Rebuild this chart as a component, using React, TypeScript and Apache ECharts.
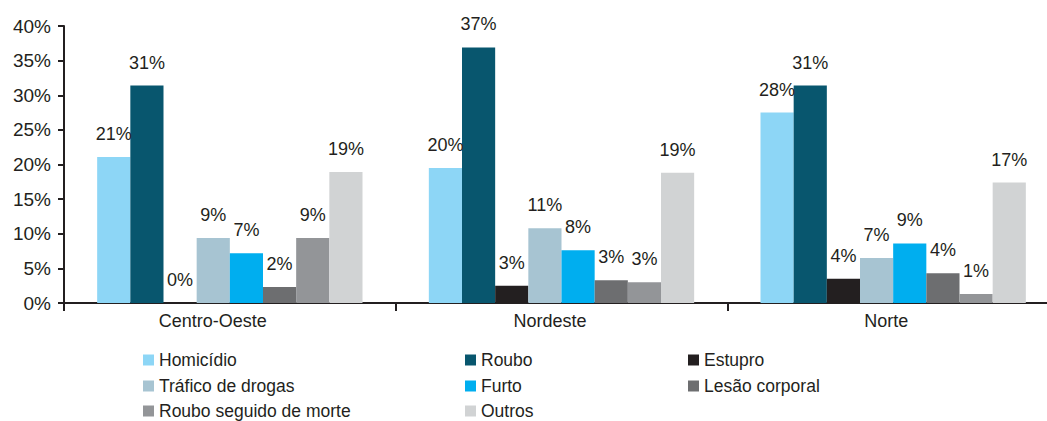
import React, { useEffect, useRef } from "react";
import * as echarts from "echarts";

const categories = ["Centro-Oeste", "Nordeste", "Norte"];
const seriesNames = [
  "Homicídio",
  "Roubo",
  "Estupro",
  "Tráfico de drogas",
  "Furto",
  "Lesão corporal",
  "Roubo seguido de morte",
  "Outros",
];
const homicidio = [21.1, 19.5, 27.5];
const roubo = [31.4, 36.9, 31.4];
const estupro = [0, 2.5, 3.5];
const trafico = [9.4, 10.8, 6.5];
const furto = [7.2, 7.6, 8.6];
const lesao = [2.3, 3.3, 4.3];
const rouboMorte = [9.4, 3.0, 1.3];
const outros = [18.9, 18.8, 17.4];
const colors = ["#8dd6f6", "#08566e", "#231f20", "#a7c4d2", "#00aeef", "#6d6e70", "#939598", "#d1d3d4"];
const yTicks = { min: 0, max: 40, interval: 5 };

const TEXT = "#231f20";
const FONT = "'Liberation Sans', Arial, sans-serif";

export default function App() {
  const ref = useRef<HTMLDivElement>(null);
  useEffect(() => {
    if (!ref.current) return;
    const chart = echarts.init(ref.current, null, { renderer: "svg" });
    const values = [homicidio, roubo, estupro, trafico, furto, lesao, rouboMorte, outros];
    const colLefts = [143, 465, 688];
    const rowTops = [351, 377, 402];
    const labelShiftPad = [34, 23, 14];
    chart.setOption({
      animation: false,
      backgroundColor: "#ffffff",
      textStyle: { fontFamily: FONT },
      grid: { left: 64, top: 26, width: 995, height: 277, outerBoundsMode: "none", containLabel: false },
      legend: seriesNames.map((name, i) => ({
        orient: "horizontal",
        left: colLefts[i % 3],
        top: rowTops[Math.floor(i / 3)],
        itemWidth: 11,
        itemHeight: 11,
        icon: "rect",
        padding: 0,
        data: [name],
        textStyle: { fontSize: 17.5, color: TEXT, fontFamily: FONT },
        selectedMode: false,
      })),
      xAxis: {
        type: "category",
        data: categories.map((c, i) => ({
          value: c,
          textStyle: { padding: [0, labelShiftPad[i], 0, 0] },
        })),
        axisLine: { lineStyle: { color: TEXT, width: 2 } },
        axisTick: { show: true, length: 8, lineStyle: { color: TEXT, width: 2 }, alignWithLabel: false },
        axisLabel: { fontSize: 18, color: TEXT, margin: 9, fontFamily: FONT },
      },
      yAxis: {
        type: "value",
        min: yTicks.min,
        max: yTicks.max,
        interval: yTicks.interval,
        axisLine: { show: true, lineStyle: { color: TEXT, width: 2 } },
        axisTick: { show: true, length: 6, lineStyle: { color: TEXT, width: 2 } },
        splitLine: { show: false },
        axisLabel: { formatter: "{value}%", fontSize: 19, color: TEXT, margin: 13, fontFamily: FONT },
      },
      series: seriesNames.map((name, i) => ({
        name,
        type: "bar",
        data: values[i],
        barGap: "0%",
        barCategoryGap: "20%",
        itemStyle: { color: colors[i] },
        label: {
          show: true,
          position: "top",
          distance: 14,
          fontSize: 18,
          color: TEXT,
          fontFamily: FONT,
          formatter: (p: any) => Math.round(p.value) + "%",
        },
      })),
    });
    return () => chart.dispose();
  }, []);
  return (
    <div
      ref={ref}
      style={{ position: "absolute", left: 0, top: 0, width: 1047, height: 421, overflow: "hidden" }}
    />
  );
}
